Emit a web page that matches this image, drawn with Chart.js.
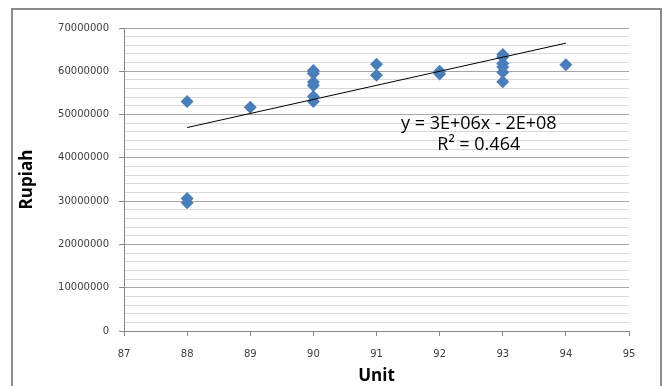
<!DOCTYPE html>
<html>
<head>
<meta charset="utf-8">
<script src="https://cdn.jsdelivr.net/npm/chart.js@4.4.1/dist/chart.umd.min.js"></script>
<style>
    html, body { margin: 0; padding: 0; background: #fff; overflow: hidden; }
    #wrap { position: relative; width: 663px; height: 386px; }
    #frame {
        position: absolute; left: 11px; top: 8px;
        width: 647px; height: 400px;
        border: 2px solid #8c8c8c;
        pointer-events: none;
    }
    canvas { position: absolute; left: 0; top: 0; }
</style>
</head>
<body>
<div id="wrap">
    <canvas id="chart" width="663" height="386"></canvas>
    <div id="frame"></div>
</div>
<script>
// Observed points (Unit vs Rupiah)
const unitValues = [88, 88, 88, 89, 90, 90, 90, 90, 90, 90, 91, 91, 92, 92, 93, 93, 93, 93, 93, 93, 94];
const rupiahValues = [
    53000000, 30600000, 29600000,
    51700000,
    60200000, 59500000, 57500000, 56700000, 54200000, 53000000,
    61600000, 59100000,
    60000000, 59400000,
    63900000, 63300000, 61800000, 61000000, 59800000, 57600000,
    61500000
];

// Linear trend line end points
const trendUnits = [88, 94];
const trendRupiah = [47000000, 66500000];

// Axis settings
const xTicks = [87, 88, 89, 90, 91, 92, 93, 94, 95];
const yMajorStep = 10000000;
const yMinorStep = 2000000;

// Trend equation label, anchored in data units
const equationLines = ['y = 3E+06x - 2E+08', 'R\u00b2 = 0.464'];
const equationAnchor = { x: 92.62, y: [47800000, 43000000] };

const markerBlue = '#4a7ebb';
const tickFont = { family: "'DejaVu Sans', sans-serif", size: 10 };
const titleFont = { family: "'Open Sans', sans-serif", size: 17, weight: 'bold' };

const equationPlugin = {
    id: 'equationLabel',
    afterDatasetsDraw(chart) {
        const { ctx, scales } = chart;
        const px = scales.x.getPixelForValue(equationAnchor.x);
        ctx.save();
        ctx.fillStyle = '#000';
        ctx.font = "18px 'Open Sans', sans-serif";
        ctx.textAlign = 'center';
        ctx.textBaseline = 'middle';
        equationLines.forEach((line, i) => {
            ctx.fillText(line, px, scales.y.getPixelForValue(equationAnchor.y[i]));
        });
        ctx.restore();
    }
};

const isMajor = v => Math.abs(v % yMajorStep) < 1;

new Chart(document.getElementById('chart'), {
    type: 'scatter',
    data: {
        datasets: [
            {
                label: 'Rupiah',
                data: unitValues.map((u, i) => ({ x: u, y: rupiahValues[i] })),
                pointStyle: 'rectRot',
                pointRadius: 6.5,
                pointHoverRadius: 6.5,
                backgroundColor: markerBlue,
                borderColor: markerBlue,
                borderWidth: 0,
                order: 2
            },
            {
                label: 'Linear',
                type: 'line',
                data: trendUnits.map((u, i) => ({ x: u, y: trendRupiah[i] })),
                borderColor: '#000',
                borderWidth: 1,
                pointRadius: 0,
                fill: false,
                order: 1
            }
        ]
    },
    options: {
        responsive: false,
        animation: false,
        events: [],
        layout: { padding: { top: 28, right: 34, left: 0, bottom: 0 } },
        plugins: {
            legend: { display: false },
            tooltip: { enabled: false }
        },
        scales: {
            x: {
                type: 'linear',
                min: 87,
                max: 95,
                afterBuildTicks: scale => { scale.ticks = xTicks.map(v => ({ value: v })); },
                afterFit: scale => { scale.height = 55; },
                ticks: { font: tickFont, color: '#404040', padding: 12 },
                grid: { drawOnChartArea: false, tickLength: 5, tickColor: '#868686' },
                border: { color: '#868686', width: 1 },
                title: { display: true, text: 'Unit', font: titleFont, color: '#000', padding: { top: 0, bottom: 0 } }
            },
            y: {
                min: 0,
                max: 70000000,
                afterFit: scale => { scale.width = 124; },
                ticks: {
                    stepSize: yMinorStep,
                    font: tickFont,
                    color: '#404040',
                    padding: 10,
                    autoSkip: false,
                    callback: v => isMajor(v) ? String(v) : ''
                },
                grid: {
                    color: ctx => isMajor(ctx.tick.value) ? '#a6a6a6' : '#d9d9d9',
                    tickColor: ctx => isMajor(ctx.tick.value) ? '#868686' : 'rgba(0,0,0,0)',
                    tickLength: 5
                },
                border: { color: '#868686', width: 1 },
                title: { display: true, text: 'Rupiah', font: titleFont, color: '#000', padding: { top: 17, bottom: 0 } }
            }
        }
    },
    plugins: [equationPlugin]
});
</script>
</body>
</html>
